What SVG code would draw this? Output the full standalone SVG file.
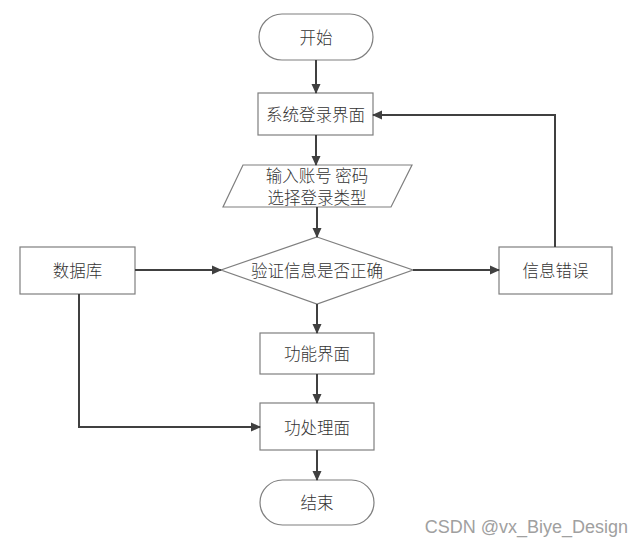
<svg xmlns="http://www.w3.org/2000/svg" width="642" height="547" viewBox="0 0 642 547">
<defs>
<marker id="arr" markerWidth="10" markerHeight="10" refX="9" refY="5" orient="auto" markerUnits="userSpaceOnUse">
<path d="M0,0.5 L10,5 L0,9.5 Z" fill="#404040"/>
</marker>
<style>
.shape{fill:#fff;stroke:#7f7f7f;stroke-width:1.2}
.t{font-family:"Noto Sans CJK SC","Liberation Sans",sans-serif;font-size:16.5px;font-weight:300;fill:#333;text-anchor:middle;dominant-baseline:central}
.c{fill:none;stroke:#404040;stroke-width:2;marker-end:url(#arr)}
</style>
</defs>
<rect width="642" height="547" fill="#fff"/>
<g id="start"><rect class="shape" x="259" y="14" width="114" height="46" rx="23"/><text class="t" x="316" y="37">开始</text></g>
<g id="login"><rect class="shape" x="258" y="93" width="115" height="42"/><text class="t" x="315.5" y="114">系统登录界面</text></g>
<g id="input"><polygon class="shape" points="243,165 412,165 391,207 223,207"/><text class="t" x="317" y="175">输入账号 密码</text><text class="t" x="317" y="197">选择登录类型</text></g>
<g id="verify"><polygon class="shape" points="317,237 413,270 317,304 221,270"/><text class="t" x="317" y="270">验证信息是否正确</text></g>
<g id="db"><rect class="shape" x="20" y="247" width="115" height="47"/><text class="t" x="77.5" y="270">数据库</text></g>
<g id="error"><rect class="shape" x="499" y="247" width="113" height="47"/><text class="t" x="555.5" y="270">信息错误</text></g>
<g id="func"><rect class="shape" x="260" y="333" width="114" height="41"/><text class="t" x="317" y="353">功能界面</text></g>
<g id="proc"><rect class="shape" x="260" y="403" width="114" height="47"/><text class="t" x="317" y="427">功处理面</text></g>
<g id="end"><rect class="shape" x="260" y="480" width="114" height="45" rx="22.5"/><text class="t" x="317" y="502">结束</text></g>
<g id="connectors">
<path class="c" d="M316,60 V93"/>
<path class="c" d="M316,135 V165"/>
<path class="c" d="M317,207 V237"/>
<path class="c" d="M135,270 H221"/>
<path class="c" d="M413,270 H499"/>
<path class="c" d="M555,247 V115 H373"/>
<path class="c" d="M317,304 V333"/>
<path class="c" d="M317,374 V403"/>
<path class="c" d="M317,450 V480"/>
<path class="c" d="M79,294 V427 H260"/>
</g>
<text x="628" y="527" font-family="Liberation Sans, Arial, sans-serif" font-size="18" fill="#a0a0a0" text-anchor="end" dominant-baseline="central">CSDN @vx_Biye_Design</text>
</svg>
